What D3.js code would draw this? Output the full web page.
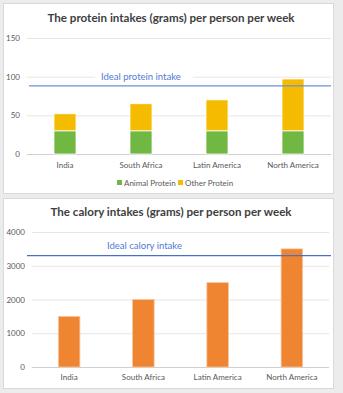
<!DOCTYPE html>
<html>
<head>
<meta charset="utf-8">
<script src="https://cdn.jsdelivr.net/npm/d3@7"></script>
<style>
  body { margin: 0; background: #ececec; }
  svg { display: block; font-family: Lato, "Open Sans", sans-serif; }
</style>
</head>
<body>
<div class="canva"></div>
<script>
// data
const regions = ['India', 'South Africa', 'Latin America', 'North America'];
const animalProtein = [30, 30, 30, 30];
const otherProtein = [22, 35, 40, 67];
const proteinTicks = [0, 50, 100, 150];
const idealProtein = 88;

const calories = [1500, 2000, 2500, 3500];
const calTicks = [0, 1000, 2000, 3000, 4000];
const idealCalory = 3300;

const svg = d3.select('.canva').append('svg')
              .attr('width', 343)
              .attr('height', 393);

// panels
svg.append('rect').attr('x', 3.5).attr('y', 3.5).attr('width', 330).attr('height', 190)
   .attr('fill', '#fff').attr('stroke', '#d9d9d9');
svg.append('rect').attr('x', 3.5).attr('y', 198.5).attr('width', 330).attr('height', 190)
   .attr('fill', '#fff').attr('stroke', '#d9d9d9');

function title(txt, y) {
    svg.append('text')
       .attr('x', 171).attr('y', y)
       .attr('text-anchor', 'middle')
       .attr('font-size', 11.6).attr('font-weight', 'bold')
       .attr('fill', '#404040')
       .text(txt);
}

//---------------- protein chart
title('The protein intakes (grams) per person per week', 22);

const x1 = d3.scaleBand().domain(regions).range([27, 331]).paddingInner(0.71).paddingOuter(0.355);
const y1 = d3.scaleLinear().domain([0, 150]).range([154, 38]);

const g1 = svg.append('g');
g1.append('g')
  .attr('transform', 'translate(27,0)')
  .call(d3.axisLeft(y1).tickValues(proteinTicks).tickSize(-304).tickPadding(7))
  .call(g => g.select('.domain').remove())
  .call(g => g.selectAll('line').attr('stroke', d => d === 0 ? '#d0d0d0' : '#e6e6e6'))
  .call(g => g.selectAll('text').attr('fill', '#595959').attr('font-size', 8).attr('font-family', 'Lato, sans-serif'));

g1.append('g')
  .attr('transform', 'translate(0,154)')
  .call(d3.axisBottom(x1).tickSize(0).tickPadding(8))
  .call(g => g.select('.domain').remove())
  .call(g => g.selectAll('text').attr('fill', '#595959').attr('font-size', 8).attr('font-family', 'Lato, sans-serif'));

const stacked = regions.map((r, i) => ({ r, a: animalProtein[i], o: otherProtein[i] }));
g1.selectAll('.animal').data(stacked).enter().append('rect')
  .attr('x', d => x1(d.r)).attr('width', x1.bandwidth())
  .attr('y', d => y1(d.a)).attr('height', d => y1(0) - y1(d.a))
  .attr('fill', '#70b842').attr('stroke', '#fff').attr('stroke-width', 0.8);
g1.selectAll('.other').data(stacked).enter().append('rect')
  .attr('x', d => x1(d.r)).attr('width', x1.bandwidth())
  .attr('y', d => y1(d.a + d.o)).attr('height', d => y1(d.a) - y1(d.a + d.o))
  .attr('fill', '#f5bb00').attr('stroke', '#fff').attr('stroke-width', 0.8);

// ideal line + label
g1.append('rect').attr('x', 95).attr('y', 70).attr('width', 98).attr('height', 12).attr('fill', '#fff');
g1.append('text').attr('x', 101).attr('y', 79.5)
  .attr('font-size', 9.5).attr('fill', '#4f7bd6').text('Ideal protein intake');
g1.append('line')
  .attr('x1', 29).attr('x2', 331)
  .attr('y1', y1(idealProtein)).attr('y2', y1(idealProtein))
  .attr('stroke', '#6d8fdc').attr('stroke-width', 1.3);

// legend
const legend = [['Animal Protein', '#70b842', 117], ['Other Protein', '#f5bb00', 178]];
legend.forEach(([t, c, lx]) => {
    g1.append('rect').attr('x', lx).attr('y', 180).attr('width', 5).attr('height', 5).attr('fill', c);
    g1.append('text').attr('x', lx + 7).attr('y', 186).attr('font-size', 8).attr('fill', '#595959').text(t);
});

//---------------- calory chart
title('The calory intakes (grams) per person per week', 216);

const x2 = d3.scaleBand().domain(regions).range([32, 329]).paddingInner(0.71).paddingOuter(0.355);
const y2 = d3.scaleLinear().domain([0, 4000]).range([367, 232]);

const g2 = svg.append('g');
g2.append('g')
  .attr('transform', 'translate(32,0)')
  .call(d3.axisLeft(y2).tickValues(calTicks).tickSize(-297).tickPadding(7).tickFormat(d3.format('d')))
  .call(g => g.select('.domain').remove())
  .call(g => g.selectAll('line').attr('stroke', d => d === 0 ? '#d0d0d0' : '#e6e6e6'))
  .call(g => g.selectAll('text').attr('fill', '#595959').attr('font-size', 8).attr('font-family', 'Lato, sans-serif'));

g2.append('g')
  .attr('transform', 'translate(0,367)')
  .call(d3.axisBottom(x2).tickSize(0).tickPadding(7))
  .call(g => g.select('.domain').remove())
  .call(g => g.selectAll('text').attr('fill', '#595959').attr('font-size', 8).attr('font-family', 'Lato, sans-serif'));

g2.selectAll('.cal').data(regions).enter().append('rect')
  .attr('x', d => x2(d)).attr('width', x2.bandwidth())
  .attr('y', (d, i) => y2(calories[i])).attr('height', (d, i) => y2(0) - y2(calories[i]))
  .attr('fill', '#ef8530').attr('stroke', '#f7c6a0').attr('stroke-width', 0.8);

g2.append('text').attr('x', 107).attr('y', 248.5)
  .attr('font-size', 9.5).attr('fill', '#4f7bd6').text('Ideal calory intake');
g2.append('line')
  .attr('x1', 27).attr('x2', 331)
  .attr('y1', y2(idealCalory)).attr('y2', y2(idealCalory))
  .attr('stroke', '#4a70c6').attr('stroke-width', 1.2);
</script>
</body>
</html>
